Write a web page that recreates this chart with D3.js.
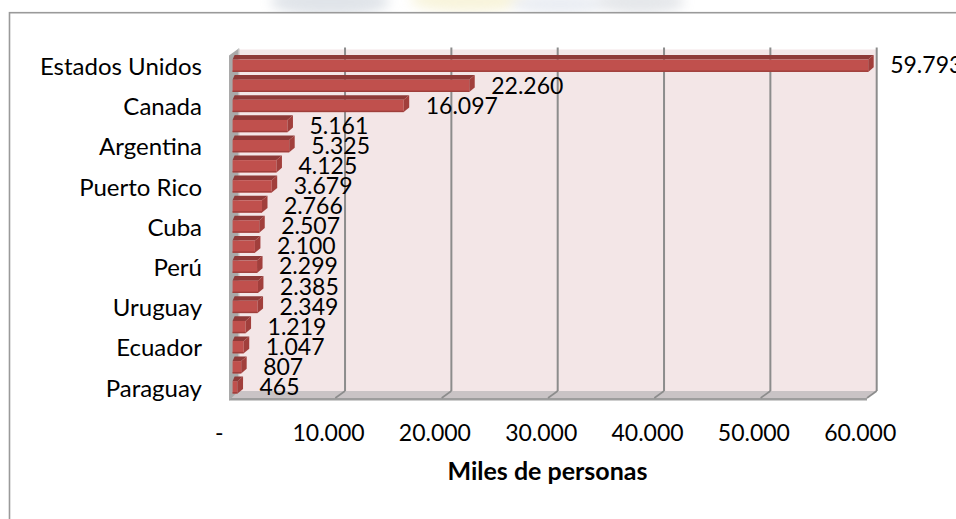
<!DOCTYPE html>
<html>
<head>
<meta charset="utf-8">
<script src="https://cdn.jsdelivr.net/npm/d3@7/dist/d3.min.js"></script>
<style>
  html, body { margin: 0; padding: 0; background: #ffffff; }
  svg { display: block; }
  text { font-family: Lato, "Open Sans", sans-serif; fill: #000; }
</style>
</head>
<body>
<svg id="chart" width="956" height="519"></svg>
<script>
// ---- data ----
const categories = ["Estados Unidos", "España", "Canada", "Brasil", "Argentina", "México",
  "Puerto Rico", "Chile", "Cuba", "Colombia", "Perú", "Venezuela", "Uruguay", "Bolivia",
  "Ecuador", "Costa Rica", "Paraguay"];
const values = [59793, 22260, 16097, 5161, 5325, 4125, 3679, 2766, 2507, 2100, 2299, 2385, 2349, 1219, 1047, 807, 465];
const tickValues = [0, 10000, 20000, 30000, 40000, 50000, 60000];
const axisTitle = "Miles de personas";

// ---- layout ----
const svg = d3.select("#chart");
const W = 956, H = 519;
const depthX = 9.7, depthY = 7;             // 3D depth offset (back = front + (dx, -dy))
const frontX0 = 229, frontX1 = 867;         // front plane for domain [0, 60000]
const backTop = 48.5, floorBackY = 391, floorFrontY = 398;

const xFront = d3.scaleLinear().domain([0, 60000]).range([frontX0, frontX1]);
const xBack = d3.scaleLinear().domain([0, 60000]).range([frontX0 + depthX, frontX1 + depthX]);
const xBar = d3.scaleLinear().domain([0, 60000]).range([232.6, 232.6 + 637.8]);
const yBand = d3.scaleBand().domain(categories).range([53.4, 53.4 + 17 * 20.1])
  .paddingInner(0.16).paddingOuter(0.08);

const loc = d3.formatLocale({ decimal: ",", thousands: ".", grouping: [3], currency: ["", ""] });
const fmt = loc.format(",d");

// ---- faint background watermark above the frame ----
const defs = svg.append("defs");
defs.append("filter").attr("id", "blur").append("feGaussianBlur").attr("stdDeviation", 6);
const wm = svg.append("g").attr("filter", "url(#blur)").attr("opacity", 0.3);
wm.append("ellipse").attr("cx", 330).attr("cy", 2).attr("rx", 60).attr("ry", 14).attr("fill", "#9aa7b8");
wm.append("ellipse").attr("cx", 470).attr("cy", 0).attr("rx", 60).attr("ry", 12).attr("fill", "#e8dc8a");
wm.append("ellipse").attr("cx", 560).attr("cy", 4).attr("rx", 50).attr("ry", 10).attr("fill", "#b9c4d8");
wm.append("ellipse").attr("cx", 640).attr("cy", 2).attr("rx", 45).attr("ry", 12).attr("fill", "#a9b0bb");

// ---- chart frame ----
svg.append("rect").attr("x", 0).attr("y", 12.7).attr("width", W).attr("height", H)
  .attr("fill", "#ffffff");
svg.append("rect").attr("x", 9.5).attr("y", 12.7).attr("width", W + 20).attr("height", H + 20)
  .attr("fill", "none").attr("stroke", "#9a9a9a").attr("stroke-width", 1.6);

// ---- back wall ----
svg.append("rect")
  .attr("x", xBack(0)).attr("y", backTop + 1)
  .attr("width", xBack(60000) - xBack(0)).attr("height", floorBackY - backTop - 1)
  .attr("fill", "#f3e6e7");

// gridlines on back wall
svg.append("g").selectAll("line").data(tickValues.slice(1)).join("line")
  .attr("x1", d => xBack(d)).attr("x2", d => xBack(d))
  .attr("y1", backTop - 1).attr("y2", floorBackY)
  .attr("stroke", "#8c8c8c").attr("stroke-width", 2);

// ---- floor ----
svg.append("polygon")
  .attr("points", [[xBack(0), floorBackY], [xBack(60000), floorBackY], [xFront(60000), floorFrontY], [xFront(0), floorFrontY]].join(" "))
  .attr("fill", "#c9c3c5");
svg.append("polygon")
  .attr("points", [[xFront(0), floorFrontY], [xFront(60000), floorFrontY], [xFront(60000), floorFrontY + 2.6], [xFront(0), floorFrontY + 2.6]].join(" "))
  .attr("fill", "#9d9d9d");
svg.append("g").selectAll("line").data(tickValues.slice(1)).join("line")
  .attr("x1", d => xBack(d)).attr("y1", floorBackY)
  .attr("x2", d => xFront(d)).attr("y2", floorFrontY)
  .attr("stroke", "#8c8c8c").attr("stroke-width", 1.6);

// ---- left wall ----
svg.append("polygon")
  .attr("points", [[xFront(0), backTop + depthY], [xBack(0), backTop], [xBack(0), floorBackY], [xFront(0), floorFrontY + 2.6]].join(" "))
  .attr("fill", "#a9a9a9");
svg.append("line")
  .attr("x1", xBack(0)).attr("x2", xBack(0)).attr("y1", backTop).attr("y2", floorBackY)
  .attr("stroke", "#c4c4c4").attr("stroke-width", 1.5);

// ---- bars (3D look) ----
const th = 4.6, bdx = 5.5;
const bars = svg.append("g").selectAll("g").data(values).join("g");
bars.each(function (v, i) {
  const g = d3.select(this);
  const c = categories[i];
  const y0 = yBand(c), y1 = yBand(c) + yBand.bandwidth();
  const x0 = xBar(0), x1 = xBar(v);
  g.append("polygon")
    .attr("points", [[x0, y0 + th], [x1, y0 + th], [x1 + bdx, y0], [x0 + 2, y0]].join(" "))
    .attr("fill", "#8e3a38");
  g.append("rect").attr("x", x0).attr("y", y0 + th)
    .attr("width", x1 - x0).attr("height", y1 - y0 - th)
    .attr("fill", "#c0504d");
  g.append("rect").attr("x", x0).attr("y", y1 - 1.4)
    .attr("width", x1 - x0).attr("height", 1.4)
    .attr("fill", "#9e3f3c");
  g.append("polygon")
    .attr("points", [[x1, y0 + th], [x1 + bdx, y0], [x1 + bdx, y1 - th], [x1, y1]].join(" "))
    .attr("fill", "#a13f3c");
});

// ---- data labels ----
svg.append("g").selectAll("text").data(values).join("text")
  .attr("x", d => xBar(d) + 22)
  .attr("y", (d, i) => yBand(categories[i]) + yBand.bandwidth() / 2 + 10)
  .attr("font-size", 23)
  .text(d => fmt(d));

// ---- category axis (every other label) ----
const yAxis = d3.axisLeft(yBand)
  .tickValues(categories.filter((d, i) => i % 2 === 0))
  .tickSize(0).tickPadding(0);
const gy = svg.append("g").attr("transform", "translate(202,0)").call(yAxis);
gy.select(".domain").remove();
gy.selectAll("text").attr("font-size", 24).attr("font-family", "Lato, 'Open Sans', sans-serif")
  .attr("fill", "#000").attr("dy", "0.48em");

// ---- value axis ----
const xAxis = d3.axisBottom(xFront)
  .tickValues(tickValues)
  .tickFormat(d => d === 0 ? "-" : fmt(d))
  .tickSize(0).tickPadding(0);
const gx = svg.append("g").attr("transform", "translate(-7.3,0)").call(xAxis);
gx.select(".domain").remove();
gx.selectAll("text").attr("font-size", 23).attr("font-family", "Lato, 'Open Sans', sans-serif")
  .attr("fill", "#000").attr("y", 440.7).attr("dy", 0);
gx.selectAll(".tick").filter(d => d === 0).select("text").attr("dx", -3);

// ---- axis title ----
svg.append("text")
  .attr("x", 547.5).attr("y", 480)
  .attr("text-anchor", "middle")
  .attr("font-size", 25).attr("font-weight", "bold")
  .text(axisTitle);
</script>
</body>
</html>
